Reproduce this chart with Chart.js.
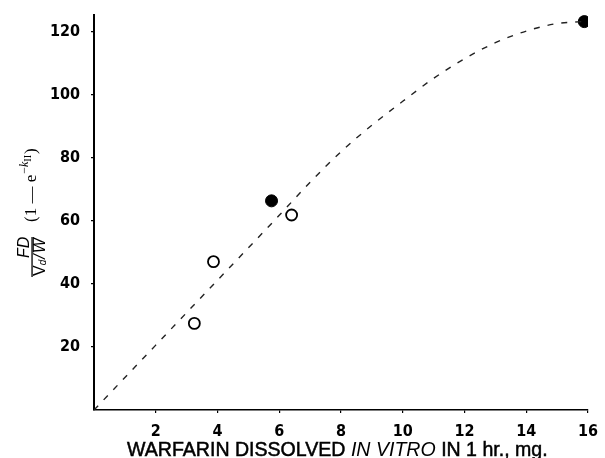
<!DOCTYPE html>
<html>
<head>
<meta charset="utf-8">
<script src="https://cdn.jsdelivr.net/npm/chart.js@4"></script>
<style>
  html, body { margin: 0; padding: 0; background: #fff; }
  #wrap { width: 605px; height: 458px; }
</style>
</head>
<body>
<div id="wrap"><canvas id="chart" width="605" height="458"></canvas></div>
<script>
// dashed fitted curve
const curveX = [0, 2, 4, 6, 7, 8, 9, 10, 11, 12, 13, 14, 15, 15.8];
const curveY = [0, 20.6, 41.2, 61.8, 72.3, 82, 90.4, 98, 105.3, 111.5, 116.6, 120.3, 122.7, 123.3];

// open circles
const openX = [3.25, 3.87, 6.4];
const openY = [27.5, 47.1, 61.9];

// filled circles
const filledX = [5.75, 15.88];
const filledY = [66.4, 123.3];

const xTicks = [2, 4, 6, 8, 10, 12, 14, 16];
const yTicks = [20, 40, 60, 80, 100, 120];

const tickFont = "'Liberation Sans Narrow', 'DejaVu Sans Condensed', sans-serif";

const toPoints = (xs, ys) => xs.map((x, i) => ({ x: x, y: ys[i] }));

// axis titles drawn by hand (mixed italic / fraction)
const titlesPlugin = {
  id: 'titles',
  afterDraw(chart) {
    const ctx = chart.ctx;
    ctx.save();
    ctx.fillStyle = '#000';
    ctx.strokeStyle = '#000';
    ctx.lineWidth = 0.5;
    ctx.textBaseline = 'alphabetic';

    // x title, sized to span the same width as the original
    const fam = '"Liberation Sans", sans-serif';
    const parts = [
      { t: 'WARFARIN DISSOLVED ', st: 'normal' },
      { t: 'IN VITRO', st: 'italic' },
      { t: ' IN 1 hr., mg.', st: 'normal' }
    ];
    const measure = size => parts.reduce((sum, p) => {
      ctx.font = p.st + ' ' + size + 'px ' + fam;
      return sum + ctx.measureText(p.t).width;
    }, 0);
    const size = 18 * 421 / measure(18);
    let x = 127;
    parts.forEach(p => {
      ctx.font = p.st + ' ' + size + 'px ' + fam;
      ctx.fillText(p.t, x, 456);
      if (p.st === 'normal') ctx.strokeText(p.t, x, 456);
      x += ctx.measureText(p.t).width;
    });

    // y title, rotated
    ctx.translate(32, 257);
    ctx.rotate(-Math.PI / 2);
    ctx.textAlign = 'left';
    ctx.font = 'italic 16px "Liberation Sans", sans-serif';
    ctx.fillText('FD', -1, -3);
    ctx.fillRect(-20, -0.6, 40, 1.3);
    // denominator V_d / W-bar
    ctx.font = '16px "Liberation Sans", sans-serif';
    let dx = -19;
    ctx.fillText('V', dx, 13); dx += ctx.measureText('V').width;
    ctx.font = 'italic 10px "Liberation Sans", sans-serif';
    ctx.fillText('d', dx, 14); dx += ctx.measureText('d').width + 1;
    ctx.font = 'italic 16px "Liberation Sans", sans-serif';
    ctx.fillText('/', dx, 13); dx += ctx.measureText('/').width + 1;
    const wW = ctx.measureText('W').width;
    ctx.fillText('W', dx, 13);
    ctx.fillRect(dx + 1, 0.8, wW, 1);

    // (1 — e^{-k_II})
    let px = 35;
    ctx.font = '17px "Liberation Serif", serif';
    ctx.fillText('(1 \u2014 e', px, 4); px += ctx.measureText('(1 \u2014 e').width + 1;
    ctx.font = '12px "Liberation Serif", serif';
    ctx.fillText('\u2212', px, -4); px += ctx.measureText('\u2212').width;
    ctx.font = 'italic 12px "Liberation Serif", serif';
    ctx.fillText('k', px, -4); px += ctx.measureText('k').width;
    ctx.font = '10px "Liberation Serif", serif';
    ctx.fillText('II', px, -1); px += ctx.measureText('II').width + 1;
    ctx.font = '17px "Liberation Serif", serif';
    ctx.fillText(')', px, 4);
    ctx.restore();
  }
};

new Chart(document.getElementById('chart'), {
  type: 'scatter',
  data: {
    datasets: [
      {
        label: 'curve',
        data: toPoints(curveX, curveY),
        showLine: true,
        borderColor: '#222',
        borderWidth: 1.4,
        borderDash: [6, 8],
        pointRadius: 0,
        cubicInterpolationMode: 'monotone',
        fill: false
      },
      {
        label: 'open',
        data: toPoints(openX, openY),
        pointRadius: 5.5,
        pointBorderWidth: 1.8,
        pointBorderColor: '#000',
        pointBackgroundColor: '#fff'
      },
      {
        label: 'filled',
        data: toPoints(filledX, filledY),
        pointRadius: 6,
        pointBorderWidth: 1,
        pointBorderColor: '#000',
        pointBackgroundColor: '#000'
      }
    ]
  },
  options: {
    responsive: false,
    animation: false,
    layout: { padding: { top: 15, right: 17, left: 0, bottom: 0 } },
    plugins: { legend: { display: false }, tooltip: { enabled: false } },
    scales: {
      x: {
        type: 'linear',
        min: 0,
        max: 16,
        afterFit: s => { s.height = 48; s.paddingLeft = 0; s.paddingRight = 0; },
        afterBuildTicks: s => { s.ticks = xTicks.map(v => ({ value: v })); },
        border: { color: '#000', width: 1.6 },
        grid: { drawOnChartArea: false, drawTicks: true, tickLength: 3, color: '#000', lineWidth: 1.2 },
        ticks: {
          color: '#000',
          padding: 9,
          maxRotation: 0,
          font: { family: tickFont, size: 16, weight: 'bold' }
        }
      },
      y: {
        type: 'linear',
        min: 0,
        max: 125.4,
        afterFit: s => { s.width = 94; s.paddingTop = 0; s.paddingBottom = 0; },
        afterBuildTicks: s => { s.ticks = yTicks.map(v => ({ value: v })); },
        border: { color: '#000', width: 2 },
        grid: { drawOnChartArea: false, drawTicks: true, tickLength: 3, color: '#000', lineWidth: 1.2 },
        ticks: {
          color: '#000',
          padding: 11,
          font: { family: tickFont, size: 16, weight: 'bold' }
        }
      }
    }
  },
  plugins: [titlesPlugin]
});
</script>
</body>
</html>
